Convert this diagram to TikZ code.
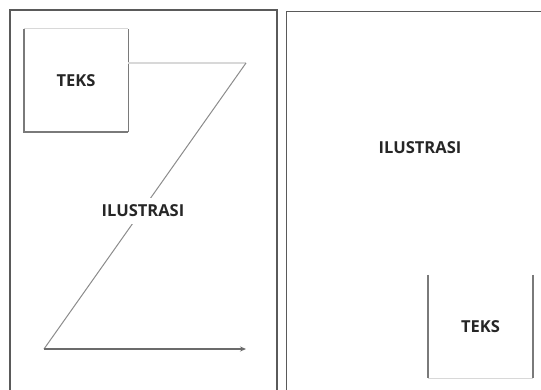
\documentclass[tikz,border=0pt]{standalone}
\usepackage{fontspec}
\setmainfont{Open Sans}
\usetikzlibrary{arrows.meta}
\definecolor{frame}{HTML}{5A5A5A}
\definecolor{edge}{HTML}{7A7A7A}
\definecolor{faint}{HTML}{D8D8D8}
\definecolor{slope}{HTML}{8C8C8C}
\tikzset{
  label text/.style={font=\bfseries\fontsize{16.5}{20}\selectfont, text=black!85},
  textbox/.style={minimum width=104pt, minimum height=103pt, inner sep=0pt, label text},
  panel/.style={draw=frame, line width=1.5pt},
  boxedge/.style={draw=edge, line width=2pt},
  boxfaint/.style={draw=faint, line width=1.2pt},
}
\begin{document}
\begin{tikzpicture}[x=1pt,y=-1pt]
  \clip (0,0) rectangle (541,390);
  \fill[white] (0,0) rectangle (541,390);

  % two page outlines, running off the lower and right edges
  \draw[panel] (10,10) rectangle (277,400);
  \draw[panel] (286.5,11.5) rectangle (560,400);

  % left page: text block in the upper left corner
  \node[textbox] (teksA) at (76,80.5) {\raisebox{-3pt}{TEKS}};
  \draw[boxfaint] (teksA.north west) -- (teksA.north east);
  \draw[boxedge] (teksA.north west) -- (teksA.south west) -- (teksA.south east);
  \draw[draw=edge, line width=1.3pt] (teksA.south east) -- (teksA.north east);

  % Z-shaped reading path
  \coordinate (zTop) at (246,63);
  \coordinate (zLow) at (44,349);
  \coordinate (zEnd) at (246,349);
  \draw[faint, line width=1.3pt] (teksA.east |- zTop) -- (zTop);
  \draw[slope, line width=1pt] (zTop) -- (zLow);
  \draw[frame!90, line width=2pt, -{Stealth[length=6pt,width=5pt]}] (zLow) -- (zEnd);

  % caption sits on a white patch that interrupts the diagonal
  \node[label text, fill=white, inner xsep=2pt, inner ysep=7pt] (ilusA) at (143,211) {ILUSTRASI};

  % right page: illustration above, text block in the lower right corner
  \node[label text] (ilusB) at (420,147.5) {ILUSTRASI};
  \node[textbox] (teksB) at (480.5,326.5) {TEKS};
  \draw[boxedge] (teksB.north west) -- (teksB.south west);
  \draw[boxedge] (teksB.north east) -- (teksB.south east);
  \draw[boxfaint] (teksB.south west) -- (teksB.south east);
\end{tikzpicture}
\end{document}
